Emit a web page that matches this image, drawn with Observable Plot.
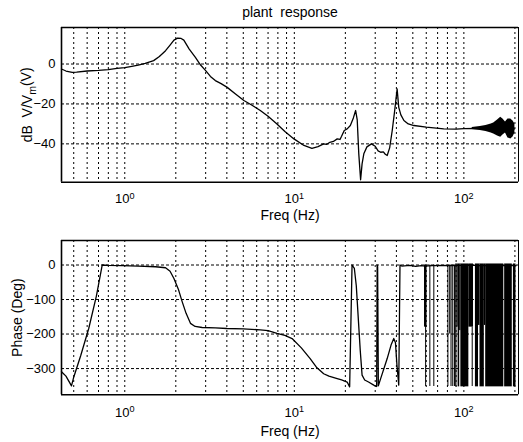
<!DOCTYPE html>
<html><head><meta charset="utf-8">
<script src="https://cdn.jsdelivr.net/npm/d3@7"></script>
<script src="https://cdn.jsdelivr.net/npm/@observablehq/plot@0.6"></script>
<style>
html,body{margin:0;padding:0;background:#fff;}
#chart svg{display:block;}
</style></head><body><div id="chart"></div>
<script>
// ---- axes / ticks ----
const xDomain = [0.4235, 210];
const magDomain = [-59.2, 18.3];
const phaseDomain = [-376, 71];
const xMajorTicks = [1, 10, 100];
const xGridTicks = [0.5,0.6,0.7,0.8,0.9,1,2,3,4,5,6,7,8,9,10,20,30,40,50,60,70,80,90,100,200];
const magTicks = [-40, -20, 0];
const phaseTicks = [-300, -200, -100, 0];
const titleText = "plant  response";
const xLabel = "Freq (Hz)";
const magLabel = "dB  V/V_m(V)";
const phaseLabel = "Phase (Deg)";

// ---- magnitude (dB) ----
const magFreq = [0.4235,0.45,0.49,0.52,0.6,0.7,0.8,0.9,1.0,1.1,1.2,1.32,1.48,1.6,1.74,1.85,1.95,2.05,2.15,2.23,2.4,2.61,2.8,3.0,3.2,3.42,3.7,4.02,4.5,5.04,5.6,6.3,7.0,7.9,8.8,9.95,11.4,12.7,13.8,14.9,15.5,16.2,17.0,17.9,18.6,19.0,19.7,20.5,21.4,22.3,23.0,23.5,24.0,24.6,25.1,25.7,26.8,28.5,30.0,31.2,32.3,33.5,34.4,35.3,36.5,37.8,39.0,40.4,41.3,42.5,44.3,47,50.8,60,76.1,90,100,119,130,140,160,180,199];
const magDb =   [-2.5,-3.5,-4.2,-4.1,-3.5,-3.2,-2.8,-2.2,-1.8,-1.2,-0.6,0.3,1.7,3.8,6.7,9.5,12,13,12.8,12,7.5,3.3,-0.5,-3.3,-6.2,-8.3,-9.8,-11.7,-15,-18.3,-20.5,-23.3,-26.2,-30,-33.8,-37.5,-40.8,-42.2,-41.4,-40,-40.3,-39.2,-38.8,-37.5,-37.8,-36.2,-33.3,-32.5,-30.8,-27,-23.3,-28,-45,-58,-50,-45,-41.5,-40,-41.2,-43.5,-44.2,-44.0,-45.2,-45.8,-42,-33.3,-24,-12.5,-21.7,-25.5,-28.3,-30,-30.8,-31.6,-32.5,-32.6,-32.4,-32.2,-32.3,-32.3,-32.0,-32.4,-32.5];
// noisy band at high frequency (lower / upper envelope, dB)
const magNoiseFreq = [112,125,135,145,150,158,165,170,176,182,189,195,200];
const magNoiseLo =   [-32.8,-33.3,-33.8,-34.5,-35,-36,-36.7,-35.5,-34.5,-37,-37.5,-36.5,-34.5];
const magNoiseHi =   [-31.8,-31.3,-30.8,-30,-29.5,-28,-26.7,-27.5,-29,-27.5,-27.5,-28.5,-30];

// ---- phase (deg) ----
const phaseFreq = [0.4235,0.45,0.485,0.50,0.55,0.613,0.68,0.736,0.8,0.965,1.2,1.52,1.74,1.85,1.95,2.07,2.18,2.3,2.44,2.6,2.86,3.42,4.0,5.0,6.3,7.0,7.9,8.8,9.7,11,12.4,13.5,14.9,16,17.9,19,20.5,21.2,21.9,22.6,23.2,23.9,24.5,25.1,26,27.4,29.4,30.6,30.8,31.0,31.3,32.3,35.3,37.3,38.6,39.5,40.3,41.3,42.0,43,48,52,56,59,65,75,85,95,110,120,150,203];
const phaseDeg =  [-309,-322,-350,-325,-262,-184,-90,0,-1,-2,-3,-5,-8,-18,-39,-70,-106,-140,-169,-178,-181,-182,-184,-185,-188,-190,-198,-204,-213,-240,-271,-296,-315,-322,-329,-333,-339,-353,0,-10,-60,-164,-250,-319,-333,-339,-348,-352,0,-5,-350,-329,-271,-230,-213,-225,-290,-348,0,-3,-1,-4,-2,-3,-2,-1,-2,-1,0,-2,-1,-2];
// single wrap lines in the dense region (freq, low, high)
const wrapFreq = [59.5,63.0,66.5,80.5,82.5,84,86,88,112,185];
const wrapLo =   [-352,-352,-352,-352,-200,-352,-352,-352,-352,-352];
const wrapHi =   [0,0,0,0,0,0,0,0,-180,0];
// densely wrapped stretches (freq start, freq end, low, high)
const bandStart = [58.6,89.5,91,92.5,94.5,96,107,117,122,124.5,132,134.5,174,196];
const bandEnd =   [60.6,91,92.5,94.5,96,107,114,122,124.5,132,134.5,172,193,203];
const bandLo =    [-180,-353,-180,-353,-190,-353,-180,-353,-175,-353,-175,-353,-353,-353];
const bandHi =    [0,3,3,3,3,3,3,3,3,3,3,3,3,3];

const magData = magFreq.map((f, i) => ({f, v: magDb[i]}));
const magNoise = magNoiseFreq.map((f, i) => ({f, lo: magNoiseLo[i], hi: magNoiseHi[i]}));
const phaseData = phaseFreq.map((f, i) => ({f, v: phaseDeg[i]}));
const wraps = wrapFreq.map((f, i) => ({f, lo: wrapLo[i], hi: wrapHi[i]}));
const bands = bandStart.map((f1, i) => ({f1, f2: bandEnd[i], lo: bandLo[i], hi: bandHi[i]}));

function panel({height, marginTop, marginBottom, yDomain, yTicks, yLabel, yLabelDx, xLabelDy, tickPad, marks, extra}) {
  return Plot.plot({
    width: 523, height, marginLeft: 61, marginRight: 5, marginTop, marginBottom,
    style: {fontFamily: "'Liberation Sans', Arial, sans-serif", fontSize: "13px", background: "white", color: "black", overflow: "visible"},
    x: {type: "log", domain: xDomain},
    y: {domain: yDomain},
    marks: [
      Plot.gridX(xGridTicks, {stroke: "black", strokeOpacity: 1, strokeWidth: 1, strokeDasharray: "2,3"}),
      Plot.gridY(yTicks, {stroke: "black", strokeOpacity: 1, strokeWidth: 1, strokeDasharray: "3,2"}),
      ...marks,
      Plot.ruleX([xDomain[0]], {stroke: "black", strokeWidth: 1.6}),
      Plot.ruleX([xDomain[1]], {stroke: "black", strokeWidth: 1}),
      Plot.ruleY([yDomain[0]], {stroke: "black", strokeWidth: 1.6}),
      Plot.ruleY([yDomain[1]], {stroke: "black", strokeWidth: 1.6}),
      Plot.axisX(xMajorTicks, {tickSize: 0, tickPadding: tickPad, label: null, tickFormat: d => "10^" + Math.round(Math.log10(d))}),
      Plot.axisY(yTicks, {tickSize: 0, tickPadding: 6, label: null}),
      Plot.text([xLabel], {text: d => d, frameAnchor: "bottom", lineAnchor: "middle", textAnchor: "middle", dy: xLabelDy, fontSize: 14}),
      Plot.text([yLabel], {text: d => d, frameAnchor: "left", lineAnchor: "middle", textAnchor: "middle", rotate: -90, dx: yLabelDx, fontSize: 14}),
      ...(extra || [])
    ]
  });
}

const mag = panel({
  height: 226, marginTop: 27, marginBottom: 44.3,
  yDomain: magDomain, yTicks: magTicks, yLabel: magLabel, yLabelDx: -33.8, xLabelDy: 33.5, tickPad: 12,
  marks: [
    Plot.areaY(magNoise, {x: "f", y1: "lo", y2: "hi", fill: "black", curve: "linear"}),
    Plot.line(magData, {x: "f", y: "v", stroke: "black", strokeWidth: 1.3})
  ],
  extra: [Plot.text([titleText], {text: d => d, frameAnchor: "top", lineAnchor: "middle", textAnchor: "middle", dy: -15, fontSize: 14})]
});

const phase = panel({
  height: 216, marginTop: 14, marginBottom: 47.7,
  yDomain: phaseDomain, yTicks: phaseTicks, yLabel: phaseLabel, yLabelDx: -43.8, xLabelDy: 37, tickPad: 13,
  marks: [
    Plot.rect(bands, {x1: "f1", x2: "f2", y1: "lo", y2: "hi", fill: "black"}),
    Plot.ruleX(wraps, {x: "f", y1: "lo", y2: "hi", stroke: "black", strokeWidth: 1}),
    Plot.line(phaseData, {x: "f", y: "v", stroke: "black", strokeWidth: 1.3})
  ]
});

const root = document.getElementById("chart");
root.appendChild(mag);
root.appendChild(phase);

// superscripts / subscripts as real text
for (const svg of [mag, phase]) {
  svg.querySelectorAll("text").forEach(t => {
    const s = t.textContent;
    if (s.startsWith("10^")) {
      t.textContent = "";
      const b = document.createElementNS("http://www.w3.org/2000/svg", "tspan");
      b.textContent = "10";
      const e = document.createElementNS("http://www.w3.org/2000/svg", "tspan");
      e.textContent = s.slice(3);
      e.setAttribute("dy", "-0.5em");
      e.setAttribute("font-size", "0.7em");
      t.appendChild(b); t.appendChild(e);
    } else if (s.includes("_m")) {
      const [a, c] = s.split("_m");
      t.textContent = "";
      const t1 = document.createElementNS("http://www.w3.org/2000/svg", "tspan");
      t1.textContent = a;
      const t2 = document.createElementNS("http://www.w3.org/2000/svg", "tspan");
      t2.textContent = "m"; t2.setAttribute("dy", "0.35em"); t2.setAttribute("font-size", "0.75em");
      const t3 = document.createElementNS("http://www.w3.org/2000/svg", "tspan");
      t3.textContent = c; t3.setAttribute("dy", "-0.35em");
      t.appendChild(t1); t.appendChild(t2); t.appendChild(t3);
    }
  });
}
</script></body></html>
